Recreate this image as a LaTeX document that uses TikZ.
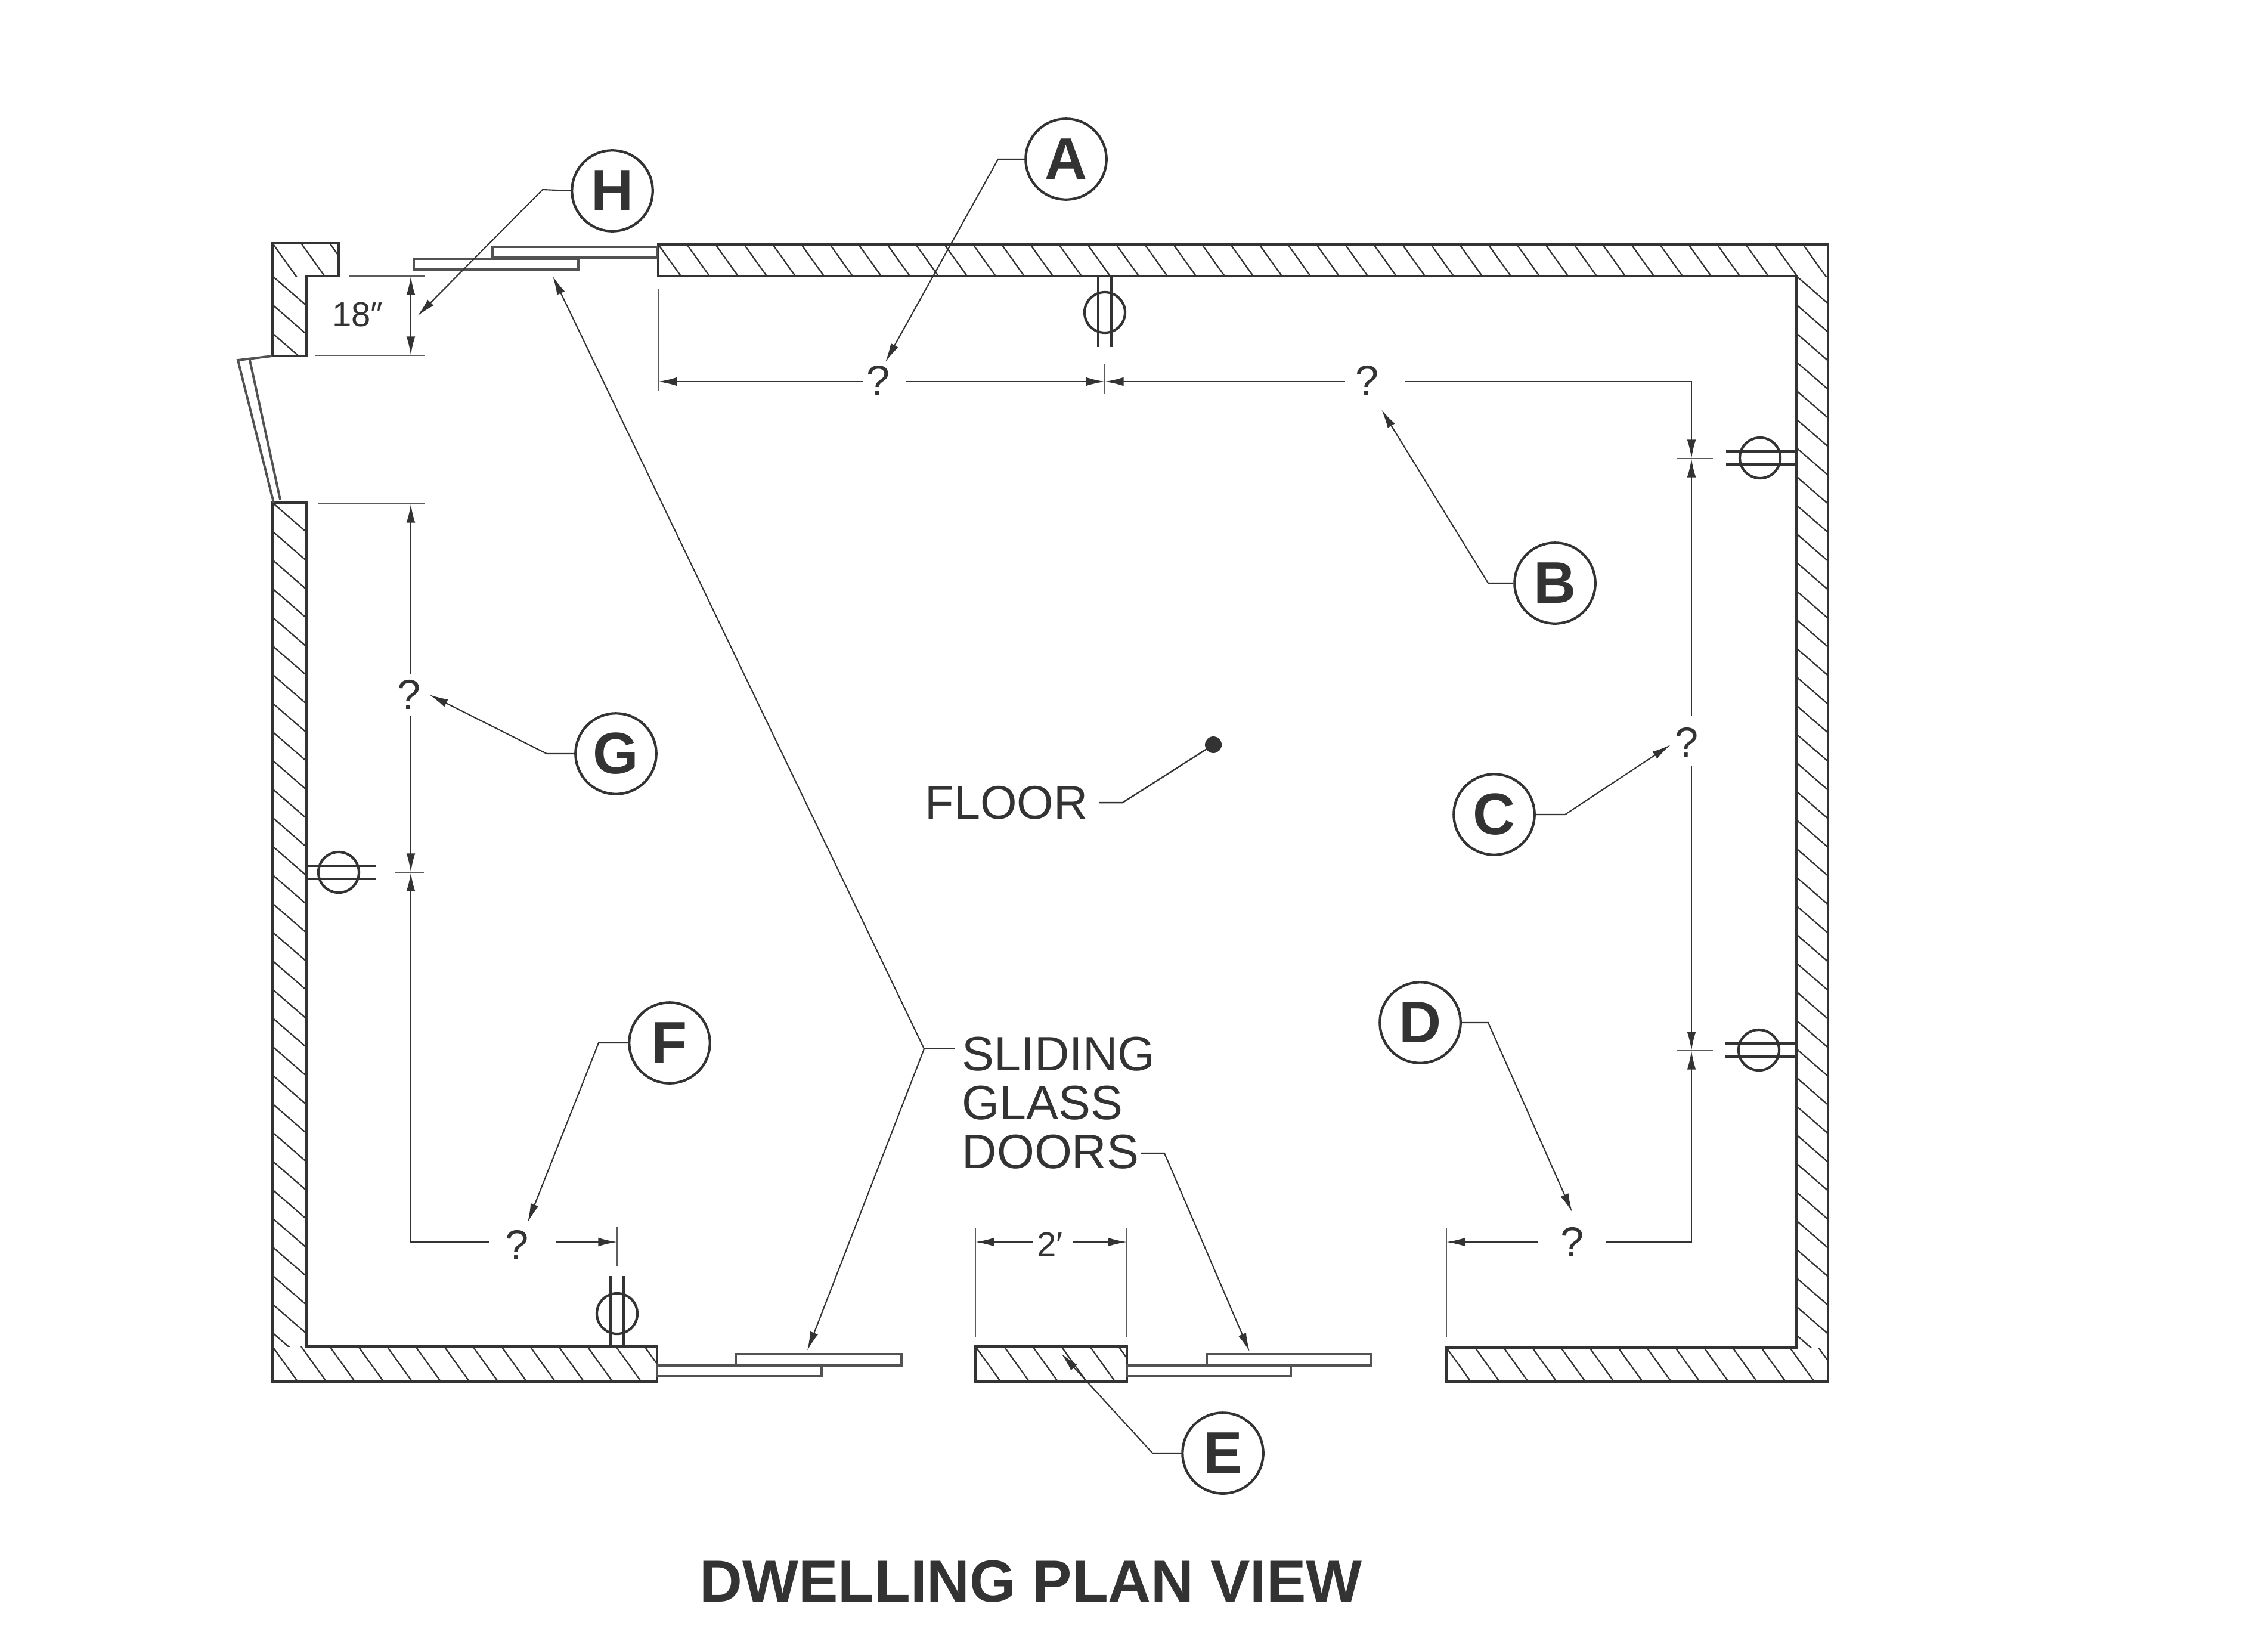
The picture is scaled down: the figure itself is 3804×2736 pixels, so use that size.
\documentclass[tikz,border=0pt]{standalone}
\usepackage{fontspec}
\setmainfont{Liberation Sans}
\usetikzlibrary{arrows.meta}
\definecolor{ink}{gray}{0.2}
\tikzset{
  wall/.style={draw=ink,line width=1.3pt,line join=miter},
  hatchline/.style={draw=ink,line width=0.65pt},
  thin line/.style={draw=ink,line width=0.7pt},
  extline/.style={draw=ink!80,line width=0.8pt},
  dimline/.style={draw=ink,line width=0.7pt,-{Latex[length=9pt,width=4.2pt]}},
  leaderline/.style={draw=ink,line width=0.6pt,line join=miter,-{Latex[length=9pt,width=4pt]}},
  panel/.style={draw=ink!85,line width=1.1pt},
  fixture/.style={draw=ink,line width=1.2pt},
  callout/.style={circle,draw=ink,line width=1.2pt,minimum size=38.5pt,inner sep=0pt,text=ink,font=\fontsize{28}{30}\selectfont\bfseries},
  qmark/.style={inner sep=0pt,text=ink,font=\fontsize{20}{22}\selectfont},
  dimtext/.style={inner sep=0pt,text=ink,font=\fontsize{16.5}{18}\selectfont},
  label/.style={inner sep=0pt,text=ink,font=\fontsize{23}{23.4}\selectfont}
}
% hatching of a horizontal wall piece: x0,x1,top,bottom
\newcommand{\hatchH}[4]{%
  \begin{scope}\clip (#1,#3) rectangle (#2,#4);
  \foreach \k in {-2,...,60}{\draw[hatchline] ({#1+\k*48},#3) -- ++(43,60);}
  \end{scope}}
% hatching of a vertical wall piece: x0,x1,top,bottom
\newcommand{\hatchV}[4]{%
  \begin{scope}\clip (#1,#3) rectangle (#2,#4);
  \foreach \k in {-2,...,45}{\draw[hatchline] (#1,{#3+\k*48}) -- ++(60,52);}
  \end{scope}}
\begin{document}
\begin{tikzpicture}[x=0.01cm,y=-0.01cm]
\useasboundingbox (0,0) rectangle (3804,2736);
\fill[white] (0,0) rectangle (3804,2736);

% hatching
\hatchH{1104}{3066}{410}{463}
\hatchV{3013}{3066}{463}{2260}
\hatchH{2426}{3066}{2260}{2317}
\hatchV{457}{514}{843}{2258}
\hatchH{457}{1102}{2258}{2317}
\hatchH{1636}{1890}{2258}{2317}
\hatchV{457}{514}{463}{597}
\hatchH{457}{568}{408}{463}

% walls
\draw[wall] (1104,410) -- (3066,410) -- (3066,2317) -- (2426,2317) -- (2426,2260) -- (3013,2260) -- (3013,463) -- (1104,463) -- cycle;
\draw[wall] (457,843) -- (514,843) -- (514,2258) -- (1102,2258) -- (1102,2317) -- (457,2317) -- cycle;
\draw[wall] (457,408) -- (568,408) -- (568,463) -- (514,463) -- (514,597) -- (457,597) -- cycle;
\draw[wall] (1636,2258) rectangle (1890,2317);

% entry door
\draw[panel] (457,597) -- (399,604) -- (459,843);
\draw[panel] (419,604) -- (470,838);

% sliding door panels
\draw[panel] (694,434) rectangle (970,452);
\draw[panel] (826,414) rectangle (1102,432);
\draw[panel] (1234,2271) rectangle (1512,2290);
\draw[panel] (1102,2290) rectangle (1378,2308);
\draw[panel] (2024,2271) rectangle (2299,2290);
\draw[panel] (1890,2290) rectangle (2165,2308);

% outlets
\draw[fixture] (1853,524) circle (34);
\draw[fixture] (1842,463) -- (1842,582) (1864,463) -- (1864,582);
\draw[fixture] (2952,768) circle (34);
\draw[fixture] (3013,757) -- (2895,757) (3013,779) -- (2895,779);
\draw[fixture] (2950,1761) circle (34);
\draw[fixture] (3013,1750) -- (2893,1750) (3013,1772) -- (2893,1772);
\draw[fixture] (568,1463) circle (34);
\draw[fixture] (514,1452) -- (631,1452) (514,1474) -- (631,1474);
\draw[fixture] (1035,2203) circle (34);
\draw[fixture] (1024,2257) -- (1024,2140) (1046,2257) -- (1046,2140);

% named points
\coordinate (topL) at (1104,640);
\coordinate (topM) at (1853,640);
\coordinate (topR) at (2837,640);
\coordinate (rightA) at (2837,769);
\coordinate (rightB) at (2837,1762);
\coordinate (botR) at (2837,2083);
\coordinate (botRE) at (2426,2083);
\coordinate (leftTop) at (689,845);
\coordinate (leftM) at (689,1463);
\coordinate (leftB) at (689,2083);
\coordinate (outE) at (1035,2083);
\coordinate (twoL) at (1636,2083);
\coordinate (twoR) at (1890,2083);
\coordinate (hT) at (689,463);
\coordinate (hB) at (689,596);
\coordinate (hM) at (689,528);

% extension lines and ticks
\draw[extline] (1104,485) -- (1104,655);
\draw[extline] (1853,611) -- (1853,660);
\draw[extline] (2813,769) -- (2873,769);
\draw[extline] (2813,1762) -- (2873,1762);
\draw[extline] (662,1463) -- (711,1463);
\draw[extline] (1035,2057) -- (1035,2123);
\draw[extline] (1636,2060) -- (1636,2243);
\draw[extline] (1890,2060) -- (1890,2243);
\draw[extline] (2426,2060) -- (2426,2243);
\draw[extline] (585,463) -- (712,463);
\draw[extline] (528,596) -- (712,596);
\draw[extline] (534,845) -- (712,845);

% dimension texts
\node[qmark] (qa) at (1473,638) {?};
\node[qmark] (qb) at (2293,638) {?};
\node[qmark] (qc) at (2829,1245) {?};
\node[qmark] (qd) at (2637,2083) {?};
\node[qmark] (qf) at (867,2088) {?};
\node[qmark] (qg) at (686,1165) {?};
\node[dimtext] (two) at (1761,2087) {2′};
\node[dimtext] (eighteen) at (600,528) {18″};

% dimension free ends
\coordinate (qaL) at (1448,640);
\coordinate (qaR) at (1519,640);
\coordinate (qbL) at (2256,640);
\coordinate (qbR) at (2356,640);
\coordinate (qcT) at (2837,1200);
\coordinate (qcB) at (2837,1285);
\coordinate (qdL) at (2580,2083);
\coordinate (qdR) at (2693,2083);
\coordinate (qfL) at (820,2083);
\coordinate (qfR) at (932,2083);
\coordinate (qgT) at (689,1130);
\coordinate (qgB) at (689,1200);
\coordinate (twoA) at (1732,2083);
\coordinate (twoB) at (1799,2083);

% dimension lines
\draw[dimline] (qaL) -- (topL);
\draw[dimline] (qaR) -- (topM);
\draw[dimline] (qbL) -- (topM);
\draw[dimline] (qbR) -- (topR) -- (rightA);
\draw[dimline] (qcT) -- (rightA);
\draw[dimline] (qcB) -- (rightB);
\draw[dimline] (qdR) -- (botR) -- (rightB);
\draw[dimline] (qdL) -- (botRE);
\draw[dimline] (qgT) -- (leftTop);
\draw[dimline] (qgB) -- (leftM);
\draw[dimline] (qfL) -- (leftB) -- (leftM);
\draw[dimline] (qfR) -- (outE);
\draw[dimline] (twoA) -- (twoL);
\draw[dimline] (twoB) -- (twoR);
\draw[dimline] (hM) -- (hT);
\draw[dimline] (hM) -- (hB);

% callouts
\node[callout] (A) at (1788,267) {A};
\node[callout] (B) at (2608,978) {B};
\node[callout] (C) at (2506,1366) {C};
\node[callout] (D) at (2382,1715) {D};
\node[callout] (E) at (2051,2437) {E};
\node[callout] (F) at (1123,1749) {F};
\node[callout] (G) at (1033,1264) {G};
\node[callout] (H) at (1027,320) {H};

% leaders
\draw[leaderline] (A.west) -- (1674,267) -- (1485,607);
\draw[leaderline] (B.west) -- (2496,978) -- (2317,687);
\draw[leaderline] (C.east) -- (2625,1366) -- (2802,1249);
\draw[leaderline] (D.east) -- (2496,1715) -- (2637,2033);
\draw[leaderline] (E.west) -- (1933,2437) -- (1780,2270);
\draw[leaderline] (F.west) -- (1004,1749) -- (885,2050);
\draw[leaderline] (G.west) -- (917,1264) -- (720,1165);
\draw[leaderline] (H.west) -- (910,318) -- (700,530);

% floor
\node[inner sep=0pt,text=ink,font=\fontsize{22.5}{24}\selectfont] (floor) at (1688,1346) {FLOOR};
\fill[ink] (2035,1249) circle (14);
\coordinate (floorDot) at (2035,1249);
\draw[thin line] (1844,1346) -- (1883,1346) -- (floorDot);

% sliding glass doors label
\node[label,anchor=north west,align=left] (sgd) at (1613,1738) {SLIDING\\GLASS\\DOORS};
\coordinate (sgdJ) at (1550,1759);
\draw[thin line] (1601,1759) -- (sgdJ);
\draw[leaderline] (sgdJ) -- (927,463);
\draw[leaderline] (sgdJ) -- (1354,2265);
\draw[leaderline] (1914,1934) -- (1953,1934) -- (2096,2267);

% title
\node[inner sep=0pt,text=ink,font=\fontsize{28.3}{30}\selectfont\bfseries] (title) at (1729,2652) {DWELLING PLAN VIEW};
\end{tikzpicture}
\end{document}
